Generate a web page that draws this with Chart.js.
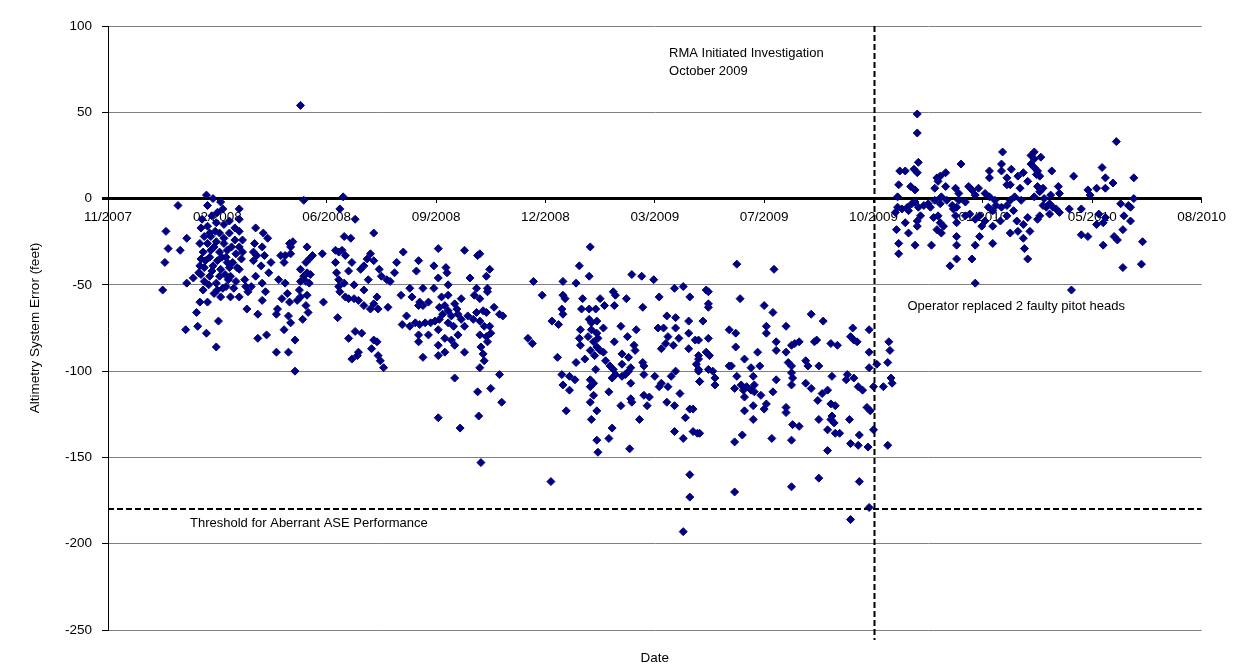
<!DOCTYPE html>
<html>
<head>
<meta charset="utf-8">
<script src="https://cdn.jsdelivr.net/npm/chart.js@4.4.1/dist/chart.umd.min.js"></script>
<style>
    html, body { margin: 0; padding: 0; background: #fff; }
    #wrap { width: 1233px; height: 668px; }
</style>
</head>
<body>
<div id="wrap"><canvas id="aseChart" width="1233" height="668"></canvas></div>
<script>
// x = days since 14 Nov 2007, y = altimetry system error (feet)
const early2008 = [
    [90,2],[96,0],[103,-2],[64,-4],[91,-4],[105,-6],[120,-6],[53,-19],[55,-29],[52,-37],[50,-53],[72,-23],
    [66,-30],[72,-49],[78,-46],[87,-53],[84,-60],[91,-60],[81,-66],[101,-71],[71,-76],[82,-74],[90,-78],
    [99,-86],[103,-57],[112,-57],[120,-57],[128,-54],[127,-64],
    [85,-17],[91,-16],[99,-14],[106,-15],[116,-17],[120,-19],[88,-22],[94,-22],[102,-20],[111,-20],[84,-26],
    [91,-26],[99,-25],[106,-26],[116,-24],[123,-24],[87,-31],[94,-30],[102,-31],[109,-30],[117,-32],[85,-35],
    [93,-34],[100,-36],[108,-34],[114,-37],[122,-35],[88,-40],[96,-39],[103,-41],[111,-40],[120,-41],[85,-44],
    [93,-45],[102,-45],[112,-45],[88,-48],[99,-49],[117,-48],[125,-47],[126,-51],[100,-53],[108,-51],[84,-39],
    [120,-28],[106,-23],[111,-13],[120,-12],[95,-10],[100,-8],[86,-12],[97,-28],[104,-34],[89,-36],[95,-42],
    [107,-44],[113,-28],[118,-40],[110,-47],[92,-50],[97,-55],[105,-52],[115,-52],[123,-31],[83,-43],[98,-19],
    [93,-20],[109,-37]
];
const mid2008 = [
    [176,54],[179,-1],[215,1],[212,-6],[226,-12],[135,-17],[142,-20],[146,-23],[134,-26],[141,-28],[133,-31],
    [136,-33],[143,-33],[133,-36],[149,-37],[140,-39],[147,-43],[135,-45],[141,-49],[131,-51],[144,-54],[141,-59],
    [137,-67],[137,-81],[145,-79],[155,-64],[154,-67],[159,-58],[156,-47],[162,-49],[158,-33],[162,-33],[167,-32],
    [166,-26],[169,-25],[167,-28],[161,-37],[164,-55],[166,-60],[165,-68],[167,-72],[161,-76],[154,-89],[165,-89],
    [171,-82],[171,-100],[176,-41],[179,-45],[182,-43],[185,-44],[181,-48],[176,-48],[184,-49],[182,-28],[187,-33],
    [184,-35],[181,-37],[175,-53],[176,-57],[182,-56],[173,-59],[181,-62],[183,-66],[178,-70],[197,-60],[196,-32],
    [208,-37],[211,-31],[214,-30],[217,-33],[223,-37],[220,-42],[209,-43],[211,-47],[216,-49],[211,-51],[212,-54],
    [217,-57],[220,-58],[225,-58],[225,-50],[216,-22],[222,-23],[210,-69],[220,-81],[226,-77],[223,-93],[228,-91],
    [208,-30]
];
const late2008 = [
    [243,-20],[270,-31],[302,-29],[326,-30],[338,-33],[340,-32],[284,-36],[298,-39],[309,-40],[310,-43],[302,-46],
    [282,-42],[262,-43],[264,-37],[240,-32],[237,-35],[243,-36],[234,-39],[248,-41],[231,-41],[238,-47],[250,-45],
    [255,-47],[258,-48],[349,-41],[346,-45],[331,-46],[347,-52],[337,-52],[311,-50],[298,-52],[288,-52],[276,-52],
    [268,-56],[278,-57],[305,-57],[311,-56],[323,-58],[335,-56],[340,-58],[347,-54],[234,-53],[229,-59],[246,-57],
    [243,-61],[240,-64],[247,-64],[234,-62],[256,-63],[285,-60],[293,-60],[288,-62],[284,-62],[269,-73],[273,-68],
    [276,-74],[281,-72],[285,-73],[290,-72],[295,-72],[299,-71],[303,-63],[306,-67],[303,-70],[308,-62],[311,-65],
    [314,-68],[317,-61],[319,-64],[320,-67],[311,-72],[316,-74],[323,-70],[326,-74],[329,-68],[334,-70],[337,-66],
    [340,-71],[343,-65],[346,-66],[353,-63],[361,-68],[358,-67],[344,-74],[349,-74],[350,-78],[346,-80],[340,-79],
    [347,-83],[341,-86],[343,-90],[344,-94],[340,-98],[326,-89],[317,-85],[320,-79],[314,-82],[308,-81],[302,-76],
    [302,-85],[308,-89],[302,-91],[293,-79],[284,-83],[284,-79],[288,-92],[243,-82],[246,-83],[241,-87],[247,-91],
    [249,-94],[252,-98],[229,-89],[232,-78],[317,-104],[358,-102],[350,-110],[338,-112],[360,-118],[302,-127],
    [322,-133],[339,-126],[341,-153]
];
const early2009 = [
    [441,-28],[431,-39],[389,-48],[416,-48],[428,-49],[440,-45],[479,-44],[488,-45],[499,-47],[397,-56],[416,-56],
    [418,-58],[434,-58],[450,-58],[462,-54],[464,-56],[474,-58],[504,-57],[518,-52],[526,-51],[532,-57],[547,-53],
    [415,-64],[416,-67],[433,-64],[440,-64],[446,-64],[454,-62],[463,-62],[489,-63],[406,-71],[412,-73],[440,-70],
    [442,-72],[447,-71],[453,-75],[442,-76],[447,-78],[439,-80],[448,-81],[444,-83],[447,-86],[441,-88],[450,-88],
    [445,-91],[453,-89],[432,-76],[431,-81],[432,-85],[469,-74],[483,-76],[475,-80],[481,-85],[482,-88],[463,-83],
    [470,-90],[476,-92],[455,-94],[459,-97],[470,-96],[489,-95],[490,-97],[411,-92],[428,-95],[436,-93],[446,-99],
    [462,-99],[464,-102],[461,-104],[470,-103],[473,-102],[476,-100],[478,-98],[490,-102],[500,-103],[515,-103],
    [519,-100],[506,-107],[512,-109],[504,-109],[415,-102],[422,-103],[427,-105],[416,-108],[422,-111],[441,-105],
    [444,-107],[441,-109],[444,-114],[441,-118],[447,-123],[442,-128],[458,-112],[478,-107],[478,-116],[479,-118],
    [469,-120],[490,-114],[495,-115],[493,-120],[486,-128],[518,-120],[511,-118],[523,-113],[532,-122],[535,-122],
    [528,-127],[419,-123],[458,-139],[461,-133],[447,-140],[448,-147],[477,-145],[518,-135],[526,-139],[535,-135],
    [539,-136],[405,-164],[532,-160],[532,-173],[526,-193],[384,-81],[388,-84],[503,-75],[508,-75],[511,-68],
    [519,-69],[519,-75],[512,-80],[510,-84],[517,-85],[522,-81],[531,-71],[531,-78],[531,-87],[537,-82],[540,-91],
    [538,-96],[541,-106],[540,-100],[506,-87]
];
const mid2009 = [
    [549,-54],[549,-61],[549,-63],[578,-58],[600,-62],[608,-66],[643,-67],[654,-71],[696,-76],[681,-75],[544,-71],
    [568,-76],[574,-78],[549,-81],[540,-82],[602,-74],[602,-78],[620,-74],[611,-83],[611,-88],[574,-86],[594,-89],
    [582,-93],[568,-97],[547,-89],[550,-91],[540,-93],[549,-99],[553,-100],[555,-104],[555,-108],[541,-106],
    [540,-99],[588,-98],[590,-103],[591,-108],[596,-97],[620,-89],[625,-85],[628,-84],[632,-83],[622,-95],[625,-97],
    [625,-101],[626,-104],[625,-108],[638,-94],[640,-97],[646,-83],[648,-82],[661,-84],[667,-85],[650,-97],[662,-103],
    [696,-89],[703,-96],[696,-98],[709,-109],[700,-109],[676,-102],[675,-105],[682,-104],[686,-109],[690,-111],
    [679,-80],[682,-82],[685,-83],[570,-97],[575,-103],[573,-110],[579,-108],[581,-111],[582,-115],[584,-109],
    [588,-111],[591,-112],[597,-114],[590,-120],[582,-123],[590,-128],[608,-112],[611,-105],[602,-119],[600,-122],
    [620,-121],[620,-124],[626,-131],[632,-132],[625,-140],[607,-139],[638,-107],[643,-110],[649,-117],[650,-128],
    [653,-113],[658,-111],[661,-119],[665,-120],[662,-126],[661,-128],[664,-130],[665,-136],[669,-136],[658,-134],
    [658,-146],[678,-128],[687,-137],[679,-142],[686,-143],[695,-144],[694,-121],[697,-123],[700,-134],[580,-137],
    [573,-141],[541,-136],[573,-170],[625,-167],[650,-162],[687,-164],[679,-186],[696,-179],[714,-83],[715,-88],
    [713,-95],[716,-104],[717,-107],[713,-143],[575,-38],[609,-41]
];
const late2009 = [
    [740,49],[740,38],[818,27],[741,21],[780,20],[724,16],[729,16],[737,17],[740,15],[723,8],[734,7],[738,5],
    [722,1],[758,12],[761,13],[766,15],[759,10],[756,6],[766,7],[775,6],[787,7],[790,5],[796,6],[793,2],[806,16],
    [806,12],[817,20],[817,16],[822,12],[826,17],[832,13],[837,15],[822,8],[825,8],[834,6],[802,3],[806,1],
    [811,-1],[829,1],[835,-1],[844,25],[844,20],[841,10],[778,3],[778,-1],[784,-2],[772,-4],[776,-5],[746,-4],
    [750,-3],[752,-5],[756,-1],[762,1],[761,-3],[767,-1],[722,-5],[726,-6],[731,-5],[732,-7],[720,-8],[735,-3],
    [738,-2],[741,-5],[743,-10],[721,-18],[729,-14],[732,-20],[740,-16],[740,-13],[755,-11],[759,-10],[761,-14],
    [764,-16],[762,-20],[758,-18],[775,-10],[776,-14],[773,-6],[784,-10],[788,-9],[793,-12],[797,-10],[802,-13],
    [805,-5],[809,-7],[812,-4],[817,-5],[822,-4],[825,-1],[809,-16],[816,-13],[822,-10],[828,-7],[831,-13],
    [825,-20],[832,-19],[837,-15],[841,-11],[843,-19],[837,-23],[838,-29],[841,-35],[723,-26],[723,-32],[738,-27],
    [753,-27],[776,-22],[776,-27],[776,-35],[770,-39],[790,-35],[793,-27],[797,-22],[799,-16],[809,-26],[793,-49]
];
const early2010 = [
    [922,33],[847,27],[853,24],[847,23],[847,18],[850,16],[852,13],[849,14],[863,16],[883,13],[909,18],[912,12],
    [919,9],[912,6],[904,6],[896,5],[898,2],[938,12],[869,7],[870,3],[850,7],[855,6],[852,4],[847,1],[856,0],
    [862,2],[861,-3],[864,-5],[858,-5],[867,-6],[870,-8],[861,-9],[855,-4],[852,-10],[850,-12],[879,-6],[890,-6],
    [906,-9],[912,-11],[910,-14],[904,-15],[890,-21],[896,-22],[910,-27],[920,-22],[923,-24],[928,-18],[929,-10],
    [935,-5],[938,0],[926,-3],[935,-13],[933,-4],[946,-25],[928,-40],[945,-38],[881,-53]
];

const tickLabels = ["11/2007", "02/2008", "06/2008", "09/2008", "12/2008", "03/2009",
    "07/2009", "10/2009", "01/2010", "05/2010", "08/2010"];

const investigationDay = 700;   // Oct 2009
const thresholdFeet = -180;

const allPoints = [].concat(early2008, mid2008, late2008, early2009, mid2009, late2009, early2010)
    .map((p) => ({ x: p[0], y: p[1] }));

const fontFamily = "'Liberation Sans', Arial, sans-serif";
Chart.defaults.font.family = fontFamily;
Chart.defaults.font.size = 13.5;
Chart.defaults.color = "#000";

// dashed reference lines + text notes
const notesPlugin = {
    id: "notes",
    afterDatasetsDraw(chart) {
        const { ctx, chartArea, scales } = chart;
        const xs = scales.x, ys = scales.y;
        ctx.save();
        ctx.strokeStyle = "#000";
        ctx.lineWidth = 2;
        ctx.setLineDash([6, 3]);

        const vx = Math.round(xs.getPixelForValue(investigationDay)) + 0.5;
        ctx.beginPath();
        ctx.moveTo(vx, chartArea.top);
        ctx.lineTo(vx, chartArea.bottom + 10);
        ctx.stroke();

        const hy = Math.round(ys.getPixelForValue(thresholdFeet));
        ctx.beginPath();
        ctx.moveTo(chartArea.left, hy);
        ctx.lineTo(chartArea.right, hy);
        ctx.stroke();

        ctx.setLineDash([]);
        ctx.fillStyle = "#000";
        ctx.font = "13px " + fontFamily;
        ctx.textAlign = "left";
        ctx.textBaseline = "middle";
        ctx.fillText("RMA Initiated Investigation", xs.getPixelForValue(513), ys.getPixelForValue(84));
        ctx.fillText("October 2009", xs.getPixelForValue(513), ys.getPixelForValue(73.5));
        ctx.fillText("Operator replaced 2 faulty pitot heads", xs.getPixelForValue(731), ys.getPixelForValue(-62.5));
        ctx.fillText("Threshold for Aberrant ASE Performance", xs.getPixelForValue(75), ys.getPixelForValue(-188));
        ctx.restore();
    },
};

const ctx = document.getElementById("aseChart").getContext("2d");

const aseChart = new Chart(ctx, {
    type: "scatter",
    data: {
        datasets: [
            {
                label: "ASE",
                data: allPoints,
                pointStyle: "rectRot",
                pointRadius: 4,
                pointHoverRadius: 4,
                pointBackgroundColor: "#000080",
                pointBorderColor: "#000080",
                pointBorderWidth: 1,
            },
        ],
    },
    options: {
        responsive: false,
        animation: false,
        layout: { padding: { left: 0, right: 25, top: 26, bottom: 0 } },
        plugins: {
            legend: { display: false },
            tooltip: { enabled: false },
        },
        scales: {
            x: {
                type: "linear",
                position: { y: 0 },
                min: 0,
                max: 1000,
                ticks: {
                    stepSize: 100,
                    padding: 7,
                    maxRotation: 0,
                    autoSkip: false,
                    callback: (value, index) => tickLabels[index],
                },
                grid: {
                    drawOnChartArea: false,
                    drawTicks: true,
                    tickLength: 4,
                    tickColor: "#000",
                },
                border: { display: true, color: "#000", width: 1 },
            },
            xDate: {
                type: "linear",
                position: "bottom",
                min: 0,
                max: 1000,
                ticks: { display: false },
                grid: { display: false },
                border: { display: false },
                title: { display: true, text: "Date", padding: { top: 0, bottom: 2 } },
                afterFit(scale) {
                    scale.height = 38;
                },
            },
            y: {
                min: -250,
                max: 100,
                ticks: { stepSize: 50, padding: 10 },
                grid: {
                    color: (c) => (c.tick && c.tick.value === 0 ? "#000" : "#808080"),
                    lineWidth: (c) => (c.tick && c.tick.value === 0 ? 3 : 1),
                    tickColor: "#000",
                    tickLength: 6,
                },
                border: { display: true, color: "#000", width: 1 },
                title: {
                    display: true,
                    text: "Altimetry System Error (feet)",
                    padding: { top: 27, bottom: 0 },
                },
                afterFit(scale) {
                    scale.width = 108;
                },
            },
        },
    },
    plugins: [notesPlugin],
});
</script>
</body>
</html>
